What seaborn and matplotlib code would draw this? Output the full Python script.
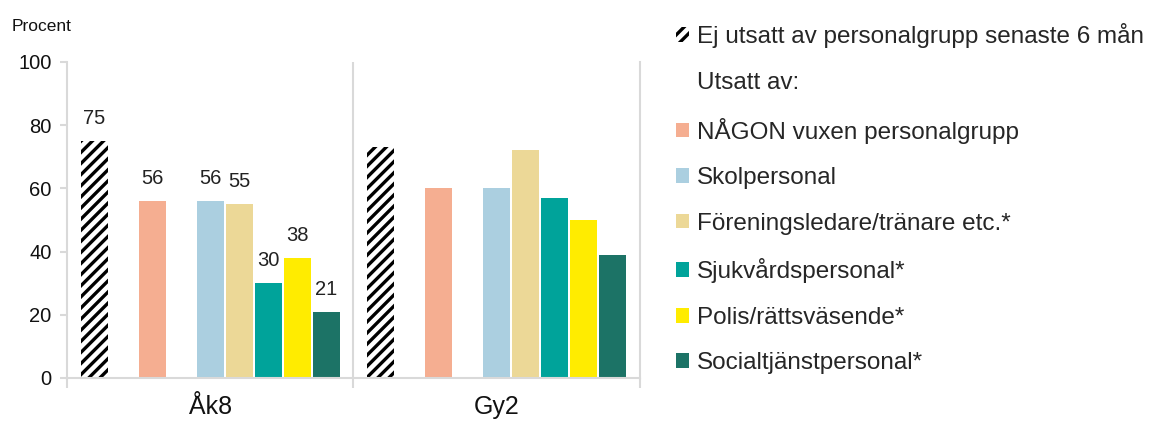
# -*- coding: utf-8 -*-

### Grouped bar chart - utsatt av personalgrupp ###

import pandas as pd
import matplotlib
matplotlib.use("Agg")
import matplotlib.pyplot as plt
import matplotlib.patches as mpatches
import seaborn as sns

sns.set_style("white")
plt.rcParams['font.family'] = ['Liberation Sans', 'DejaVu Sans']
plt.rcParams['hatch.linewidth'] = 2.4

## Data ##
groups = ["Åk8", "Gy2"]
series = ["Ej utsatt av personalgrupp senaste 6 mån",
          "_gap",
          "NÅGON vuxen personalgrupp",
          "Utsatt av:",
          "Skolpersonal",
          "Föreningsledare/tränare etc.*",
          "Sjukvårdspersonal*",
          "Polis/rättsväsende*",
          "Socialtjänstpersonal*"]
ej_utsatt = [75, 73]
nagon = [56, 60]
skol = [56, 60]
forening = [55, 72]
sjukvard = [30, 57]
polis = [38, 50]
socialtjanst = [21, 39]

colors = ["white", "white", "#f5ae91", "white", "#abcfe0",
          "#ecd897", "#00a39a", "#ffec00", "#1c7366"]

values = {series[0]: ej_utsatt, series[2]: nagon, series[4]: skol,
          series[5]: forening, series[6]: sjukvard, series[7]: polis,
          series[8]: socialtjanst}

rows = []
for s, vals in values.items():
    for g, v in zip(groups, vals):
        rows.append({"Group": g, "Series": s, "Value": v})
df = pd.DataFrame(rows)

## Plot ##
fig = plt.figure(figsize=(11.67, 4.26), dpi=100)
ax = fig.add_axes([0.0574, 0.1127, 0.4910, 0.7418])

group_width = 0.91
sns.barplot(data=df, x="Group", y="Value", hue="Series",
            order=groups, hue_order=series,
            palette=dict(zip(series, colors)),
            width=group_width, gap=0.07, linewidth=0, legend=False,
            saturation=1, ax=ax)

# find which series each bar belongs to from its dodge slot
slot_w = group_width / len(series)
for p in ax.patches:
    xc = p.get_x() + p.get_width() / 2
    g = int(round(xc))
    slot = int(round((xc - g + group_width / 2) / slot_w - 0.5))
    s = series[slot]
    if s == series[0]:
        p.set_facecolor("white")
        p.set_edgecolor("black")
        p.set_hatch("///")
        p.set_linewidth(0)
    if g == 0:
        ax.annotate("{:.0f}".format(p.get_height()), (xc, p.get_height()),
                    xytext=(0, 16), textcoords="offset points",
                    ha="center", va="center", fontsize=14.5, color="#222222")

ax.set_xlim(-0.5, 1.5)
ax.set_ylim(0, 100)
ax.set_yticks([0, 20, 40, 60, 80, 100])
ax.set_xlabel("")
ax.set_ylabel("")

grid_col = "#d9d9d9"
ax.spines["top"].set_visible(False)
for side in ["left", "right", "bottom"]:
    ax.spines[side].set_color(grid_col)
    ax.spines[side].set_linewidth(1.5)
ax.axvline(0.5, color=grid_col, linewidth=1.5)

ax.set_xticks([0, 1])
ax.set_xticklabels(groups, fontsize=18, color="#111111")
ax.set_xticks([-0.5, 0.5, 1.5], minor=True)
ax.tick_params(axis="x", which="major", length=0, pad=12)
ax.tick_params(axis="x", which="minor", length=7, width=1.5,
               color=grid_col, direction="out", bottom=True)
ax.tick_params(axis="y", length=5, width=1.5, color=grid_col,
               labelsize=14.5, labelcolor="#111111", pad=6, left=True)

fig.text(0.010, 0.937, "Procent", fontsize=12.5, va="center", ha="left",
         color="#111111")

## Legend ##
legend_order = [series[0], "Utsatt av:", series[2], series[4], series[5],
                series[6], series[7], series[8]]
col_of = dict(zip(series, colors))
handles = []
for s in legend_order:
    if s == series[0]:
        handles.append(mpatches.Patch(facecolor="white", edgecolor="black",
                                      hatch="///", linewidth=0, label=s))
    elif s == "Utsatt av:":
        handles.append(mpatches.Patch(facecolor="none", edgecolor="none",
                                      label=s))
    else:
        handles.append(mpatches.Patch(facecolor=col_of[s], edgecolor="none",
                                      label=s))

fig.legend(handles=handles, loc="upper left",
           bbox_to_anchor=(0.571, 0.968), frameon=False,
           fontsize=17.5, handlelength=0.55, handleheight=0.55,
           handletextpad=0.3, labelspacing=0.97, borderaxespad=0)

fig.savefig("out.png", dpi=100)
